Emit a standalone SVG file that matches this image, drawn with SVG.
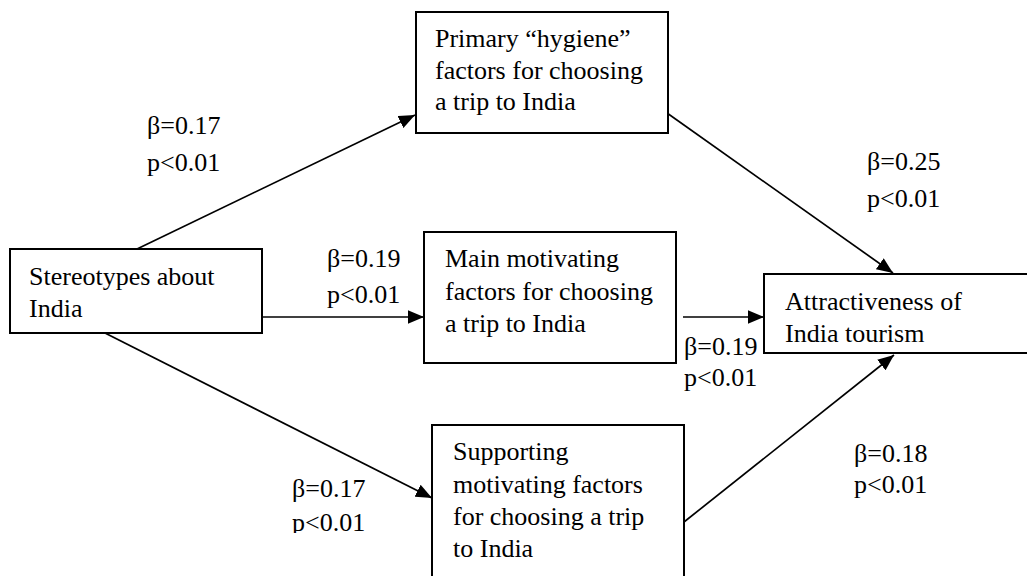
<svg xmlns="http://www.w3.org/2000/svg" width="1027" height="576" viewBox="0 0 1027 576">
<style>
text{font-family:'Liberation Serif','Times New Roman',serif;font-size:26px;fill:#000}
.box{fill:#fff;stroke:#000;stroke-width:2}
.conn{stroke:#000;stroke-width:1.7;fill:none;marker-end:url(#arr)}
</style>
<defs>
<marker id="arr" viewBox="0 0 12 10" refX="12" refY="5" markerWidth="9.5" markerHeight="8" markerUnits="strokeWidth" orient="auto">
<path d="M0,0 L12,5 L0,10 z" fill="#000"/>
</marker>
<clipPath id="clipb"><rect x="0" y="0" width="1027" height="533"/></clipPath>
</defs>
<rect width="1027" height="576" fill="#fff"/>
<g id="connectors">
<line class="conn" x1="137" y1="249" x2="415" y2="115"/>
<line class="conn" x1="667" y1="113" x2="893" y2="273"/>
<line class="conn" x1="262" y1="317" x2="424" y2="317"/>
<line class="conn" x1="683" y1="317" x2="764" y2="317"/>
<line class="conn" x1="105" y1="333" x2="432" y2="498"/>
<line class="conn" x1="684" y1="522" x2="894" y2="355"/>
</g>
<g id="primary">
<rect class="box" x="416" y="12" width="252" height="121"/>
<text x="435" y="47">Primary “hygiene”</text>
<text x="435" y="79">factors for choosing</text>
<text x="435" y="110">a trip to India</text>
</g>
<g id="stereotypes">
<rect class="box" x="10" y="249" width="252" height="84"/>
<text x="29" y="285">Stereotypes about</text>
<text x="29" y="317">India</text>
</g>
<g id="main">
<rect class="box" x="424" y="232" width="252" height="131"/>
<text x="445" y="267">Main motivating</text>
<text x="445" y="300">factors for choosing</text>
<text x="445" y="332">a trip to India</text>
</g>
<g id="attractiveness">
<rect class="box" x="764" y="274" width="270" height="79"/>
<text x="785" y="310">Attractiveness of</text>
<text x="785" y="342">India tourism</text>
</g>
<g id="supporting">
<rect class="box" x="432" y="425" width="252" height="160"/>
<text x="453" y="460">Supporting</text>
<text x="453" y="493">motivating factors</text>
<text x="453" y="525">for choosing a trip</text>
<text x="453" y="557">to India</text>
</g>
<g id="labels">
<text x="147" y="134">β=0.17</text>
<text x="147" y="171">p&lt;0.01</text>
<text x="867" y="170">β=0.25</text>
<text x="867" y="207">p&lt;0.01</text>
<text x="327" y="267">β=0.19</text>
<text x="327" y="303">p&lt;0.01</text>
<text x="684" y="355">β=0.19</text>
<text x="684" y="386">p&lt;0.01</text>
<text x="292" y="497">β=0.17</text>
<text x="292" y="531" clip-path="url(#clipb)">p&lt;0.01</text>
<text x="854" y="462">β=0.18</text>
<text x="854" y="493">p&lt;0.01</text>
</g>
</svg>
